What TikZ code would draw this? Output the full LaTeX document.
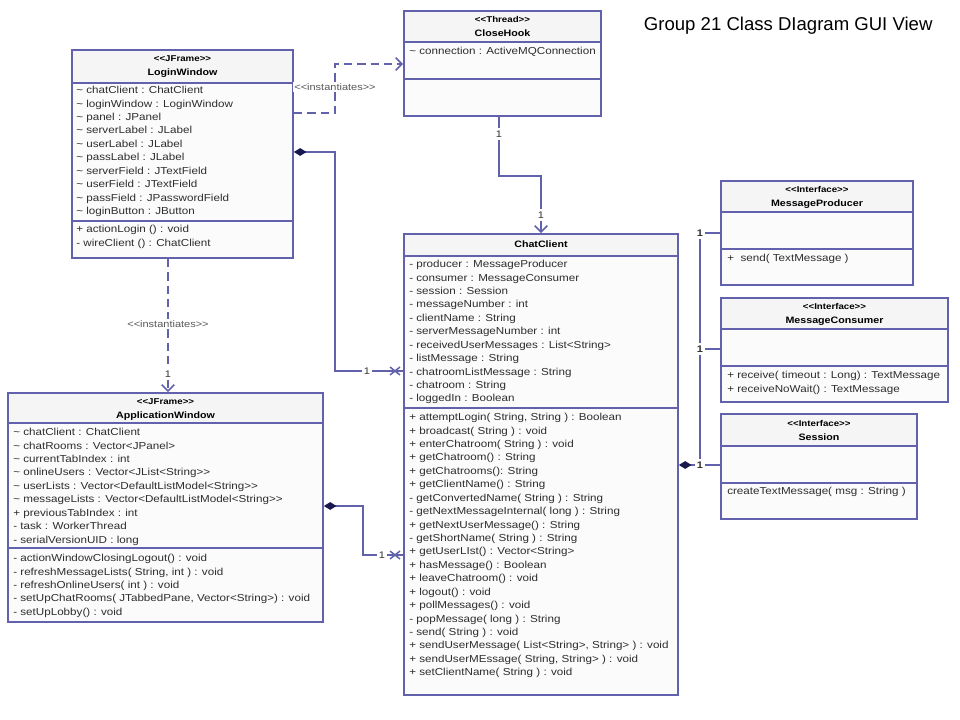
\documentclass[tikz,border=0pt]{standalone}
\usepackage{fontspec}
\setmainfont{Liberation Sans}
\newfontfamily\umlfont[FakeStretch=1.15, Ligatures=TeXOff]{Liberation Sans}
\usetikzlibrary{arrows.meta, shapes.misc, fit, positioning}
\definecolor{umlblue}{RGB}{98, 98, 172}
\definecolor{umlnavy}{RGB}{25, 25, 80}
\definecolor{txtgray}{RGB}{45, 45, 45}

\begin{document}
\begin{tikzpicture}[
    x=0.025cm, y=-0.025cm,
    umlline/.style={draw=umlblue, line width=1.2pt},
    classhead/.style={umlline, fill=black!4, inner sep=0pt},
    classbody/.style={umlline, fill=black!1.5, inner sep=0pt},
    sterlbl/.style={anchor=base, inner sep=0pt, font=\umlfont\fontsize{6}{7}\selectfont\bfseries},
    namelbl/.style={anchor=base, inner sep=0pt, font=\umlfont\fontsize{6.6}{8}\selectfont\bfseries},
    members/.style={anchor=north west, inner sep=0pt, align=left, text=txtgray, font=\umlfont\fontsize{7.2}{9.55}\selectfont},
    depline/.style={umlline, line width=1.1pt, dash pattern=on 6pt off 3.5pt},
    compline/.style={umlline, line width=1.1pt, {Diamond[length=9pt, width=5.5pt, color=umlnavy]}-},
    openarrow/.style={-{Straight Barb[length=4.5pt, width=9pt]}},
    notelbl/.style={font=\umlfont\fontsize{6.8}{8}\selectfont, text=black!65, fill=white, inner sep=1pt},
    multlbl/.style={font=\umlfont\fontsize{6.8}{8}\selectfont, text=black!80, fill=white, inner sep=1.5pt},
    xmark/.style={cross out, draw=umlblue, line width=1.1pt, minimum width=6pt, minimum height=4.5pt, inner sep=0pt},
]
\useasboundingbox (0,0) rectangle (960,720);

% --- Title ---
\node[anchor=base west, font=\fontsize{13.2}{15}\selectfont] (title) at (639,31) {Group 21 Class DIagram GUI View};

% --- LoginWindow ---
\node[classhead, fit={(72,50) (293,83)}] (loginHead) {};
\node[sterlbl] at (loginHead.north |- 0,62) {<<JFrame>>};
\node[namelbl] at (loginHead.north |- 0,75.5) {LoginWindow};
\node[classbody, fit={(72,83) (293,258)}] (login) {};
\draw[umlline] (login.west |- 0,221) -- (login.east |- 0,221);
\node[members] at (76,86) {\textasciitilde{} chatClient : ChatClient\\\textasciitilde{} loginWindow : LoginWindow\\\textasciitilde{} panel : JPanel\\\textasciitilde{} serverLabel : JLabel\\\textasciitilde{} userLabel : JLabel\\\textasciitilde{} passLabel : JLabel\\\textasciitilde{} serverField : JTextField\\\textasciitilde{} userField : JTextField\\\textasciitilde{} passField : JPasswordField\\\textasciitilde{} loginButton : JButton};
\node[members] at (76,225) {+ actionLogin () : void\\- wireClient () : ChatClient};

% --- CloseHook ---
\node[classhead, fit={(404,11) (601,42)}] (closeHead) {};
\node[sterlbl] at (closeHead.north |- 0,23) {<<Thread>>};
\node[namelbl] at (closeHead.north |- 0,36.5) {CloseHook};
\node[classbody, fit={(404,42) (601,116)}] (close) {};
\draw[umlline] (close.west |- 0,79) -- (close.east |- 0,79);
\node[members] at (409,47) {\textasciitilde{} connection : ActiveMQConnection};

% --- ChatClient ---
\node[classhead, fit={(404,234) (678,256)}] (chatHead) {};
\node[namelbl] at (chatHead.north |- 0,247.5) {ChatClient};
\node[classbody, fit={(404,256) (678,695)}] (chat) {};
\draw[umlline] (chat.west |- 0,408) -- (chat.east |- 0,408);
\node[members] at (409,260) {- producer : MessageProducer\\- consumer : MessageConsumer\\- session : Session\\- messageNumber : int\\- clientName : String\\- serverMessageNumber : int\\- receivedUserMessages : List<String>\\- listMessage : String\\- chatroomListMessage : String\\- chatroom : String\\- loggedIn : Boolean};
\node[members] at (409,413) {+ attemptLogin( String, String ) : Boolean\\+ broadcast( String ) : void\\+ enterChatroom( String ) : void\\+ getChatroom() : String\\+ getChatrooms(): String\\+ getClientName() : String\\- getConvertedName( String ) : String\\- getNextMessageInternal( long ) : String\\+ getNextUserMessage() : String\\- getShortName( String ) : String\\+ getUserLIst() : Vector<String>\\+ hasMessage() : Boolean\\+ leaveChatroom() : void\\+ logout() : void\\+ pollMessages() : void\\- popMessage( long ) : String\\- send( String ) : void\\+ sendUserMessage( List<String>, String> ) : void\\+ sendUserMEssage( String, String> ) : void\\+ setClientName( String ) : void};

% --- ApplicationWindow ---
\node[classhead, fit={(8,393) (323,423)}] (appHead) {};
\node[sterlbl] at (appHead.north |- 0,405) {<<JFrame>>};
\node[namelbl] at (appHead.north |- 0,418.5) {ApplicationWindow};
\node[classbody, fit={(8,423) (323,622)}] (app) {};
\draw[umlline] (app.west |- 0,548) -- (app.east |- 0,548);
\node[members] at (13,428) {\textasciitilde{} chatClient : ChatClient\\\textasciitilde{} chatRooms : Vector<JPanel>\\\textasciitilde{} currentTabIndex : int\\\textasciitilde{} onlineUsers : Vector<JList<String>>\\\textasciitilde{} userLists : Vector<DefaultListModel<String>>\\\textasciitilde{} messageLists : Vector<DefaultListModel<String>>\\+ previousTabIndex : int\\- task : WorkerThread\\- serialVersionUID : long};
\node[members] at (13,554) {- actionWindowClosingLogout() : void\\- refreshMessageLists( String, int ) : void\\- refreshOnlineUsers( int ) : void\\- setUpChatRooms( JTabbedPane, Vector<String>) : void\\- setUpLobby() : void};

% --- Interfaces (right column) ---
\node[classhead, fit={(721,181) (913,212)}] (prodHead) {};
\node[sterlbl] at (prodHead.north |- 0,193) {<<Interface>>};
\node[namelbl] at (prodHead.north |- 0,206.5) {MessageProducer};
\node[classbody, fit={(721,212) (913,285)}] (prod) {};
\draw[umlline] (prod.west |- 0,249) -- (prod.east |- 0,249);
\node[members] at (727,254) {+\ \ send( TextMessage )};

\node[classhead, fit={(721,298) (948,329)}] (consHead) {};
\node[sterlbl] at (consHead.north |- 0,310) {<<Interface>>};
\node[namelbl] at (consHead.north |- 0,323.5) {MessageConsumer};
\node[classbody, fit={(721,329) (948,402)}] (cons) {};
\draw[umlline] (cons.west |- 0,366) -- (cons.east |- 0,366);
\node[members] at (727,371) {+ receive( timeout : Long) : TextMessage\\+ receiveNoWait() : TextMessage};

\node[classhead, fit={(721,414) (917,446)}] (sessHead) {};
\node[sterlbl] at (sessHead.north |- 0,427) {<<Interface>>};
\node[namelbl] at (sessHead.north |- 0,440.5) {Session};
\node[classbody, fit={(721,446) (917,519)}] (sess) {};
\draw[umlline] (sess.west |- 0,483) -- (sess.east |- 0,483);
\node[members] at (727,487) {createTextMessage( msg : String )};

% --- LoginWindow instantiates CloseHook ---
\node[notelbl] (instClose) at (335,87) {<<instantiates>>};
\draw[depline] (login.east |- 0,113) -| (instClose.south);
\draw[depline, openarrow] (instClose.north) |- (close.west |- 0,64);

% --- CloseHook to ChatClient ---
\node[multlbl] (closeOne) at (499,134) {1};
\node[multlbl] (chatOne) at (541,215) {1};
\draw[umlline, line width=1.1pt] (close.south -| closeOne) -- (closeOne.north);
\draw[umlline, line width=1.1pt] (closeOne.south) |- (chatOne.north |- 0,176) -- (chatOne.north);
\draw[umlline, line width=1.1pt, openarrow] (chatOne.south) -- (chatHead.north -| chatOne);

% --- LoginWindow owns ChatClient ---
\node[multlbl] (loginOne) at (367,371) {1};
\draw[compline] (login.east |- 0,152) -| (335,371) -- (loginOne.west);
\draw[umlline, line width=1.1pt] (loginOne.east) -- (chat.west |- loginOne);
\node[xmark] at (395,371) {};

% --- LoginWindow instantiates ApplicationWindow ---
\node[notelbl] (instApp) at (168,324) {<<instantiates>>};
\node[multlbl] (appOne) at (168,374) {1};
\draw[depline] (login.south -| instApp) -- (instApp.north);
\draw[depline] (instApp.south) -- (appOne.north);
\draw[depline, openarrow] (appOne.south) -- (appHead.north -| appOne);

% --- ApplicationWindow owns ChatClient ---
\node[multlbl] (appChatOne) at (382,555) {1};
\draw[compline] (app.east |- 0,506) -| (363,555) -- (appChatOne.west);
\draw[umlline, line width=1.1pt] (appChatOne.east) -- (chat.west |- appChatOne);
\node[xmark] at (395,555) {};

% --- ChatClient to the interfaces ---
\node[multlbl, font=\umlfont\fontsize{6.8}{8}\selectfont\bfseries] (prodOne) at (700,233) {1};
\node[multlbl, font=\umlfont\fontsize{6.8}{8}\selectfont\bfseries] (consOne) at (700,349) {1};
\node[multlbl, font=\umlfont\fontsize{6.8}{8}\selectfont\bfseries] (sessOne) at (700,465) {1};
\draw[umlline, line width=1.1pt] (prodOne.south) -- (consOne.north);
\draw[umlline, line width=1.1pt] (consOne.south) -- (sessOne.north);
\draw[umlline, line width=1.1pt] (prodOne.east) -- (prod.west |- prodOne);
\draw[umlline, line width=1.1pt] (consOne.east) -- (cons.west |- consOne);
\draw[compline] (chat.east |- sessOne) -- (sessOne.west);
\draw[umlline, line width=1.1pt] (sessOne.east) -- (sess.west |- sessOne);

\end{tikzpicture}
\end{document}
